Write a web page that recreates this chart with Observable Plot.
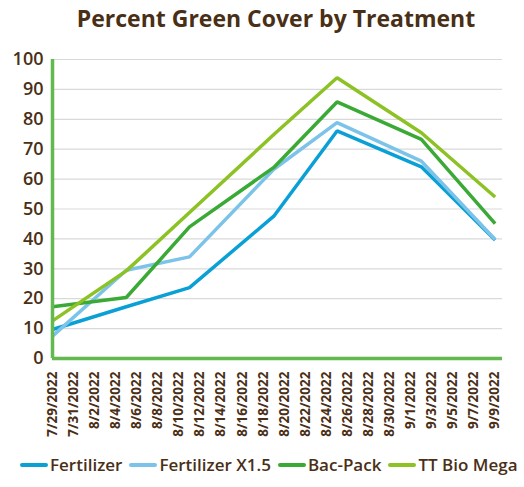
<!DOCTYPE html>
<html>
<head>
<meta charset="utf-8">
<script src="https://cdn.jsdelivr.net/npm/d3@7"></script>
<script src="https://cdn.jsdelivr.net/npm/@observablehq/plot@0.6"></script>
<style>
  html, body { margin: 0; padding: 0; background: #fff; }
  body { width: 524px; height: 487px; overflow: hidden; font-family: "Open Sans", sans-serif; color: #4a2f17; }
  #title { height: 40px; line-height: 36px; text-align: center; font-size: 23px; font-weight: 700; padding-left: 28px; box-sizing: border-box; }
  #legend { display: flex; align-items: center; padding-left: 20px; margin-top: 3px; font-size: 17px; font-weight: 600; white-space: nowrap; }
  .item { display: flex; align-items: center; margin-right: 7px; }
  .sw { width: 28px; height: 4px; border-radius: 2px; margin-right: 2px; }
</style>
</head>
<body>
<div id="title">Percent Green Cover by Treatment</div>
<div id="chart"></div>
<div id="legend"></div>
<script>
const dates = ["2022-07-29", "2022-08-05", "2022-08-11", "2022-08-19", "2022-08-25", "2022-09-02", "2022-09-09"];
const seriesNames = ["Fertilizer", "Fertilizer X1.5", "Bac-Pack", "TT Bio Mega"];
const fertilizer   = [9.7, 17.3, 23.7, 47.6, 76.1, 64.1, 39.6];
const fertilizerX15 = [7.5, 29.5, 34.0, 63.3, 78.9, 66.0, 39.8];
const bacPack      = [17.3, 20.4, 44.0, 63.9, 85.8, 73.3, 45.1];
const ttBioMega    = [12.6, 29.3, 48.8, 74.9, 93.9, 75.5, 54.0];
const yTicks = [0, 10, 20, 30, 40, 50, 60, 70, 80, 90, 100];
const colors = ["#0aa0d6", "#7cc3ea", "#3aa935", "#8cc224"];

const allSeries = [fertilizer, fertilizerX15, bacPack, ttBioMega];
const rows = [];
allSeries.forEach((vals, i) => vals.forEach((v, j) => rows.push({series: seriesNames[i], date: new Date(dates[j] + "T00:00:00Z"), value: v})));

const start = new Date("2022-07-29T00:00:00Z");
const end = new Date("2022-09-09T00:00:00Z");
const xMax = new Date(end.getTime() + 0.7 * 86400000);
const xTicks = d3.utcDay.range(start, new Date(end.getTime() + 1)).filter((d, i) => i % 2 === 0);

const chart = Plot.plot({
  width: 524,
  height: 410,
  marginLeft: 52,
  marginRight: 22,
  marginTop: 19,
  marginBottom: 92,
  style: { fontFamily: "Open Sans, sans-serif", color: "#4a2f17", background: "#fff" },
  x: { type: "utc", domain: [start, xMax] },
  y: { domain: [0, 100] },
  color: { domain: seriesNames, range: colors },
  marks: [
    Plot.gridY(yTicks.filter(d => d > 0), { stroke: "#d9d9d9", strokeOpacity: 1, strokeWidth: 1.2 }),
    Plot.axisY({ ticks: yTicks, tickSize: 0, tickPadding: 9, fontSize: 18, fontWeight: 600, label: null, fill: "#4a2f17" }),
    Plot.axisX({ ticks: xTicks, tickFormat: d3.utcFormat("%-m/%-d/%Y"), tickRotate: -90, tickSize: 0, tickPadding: 13, fontSize: 13.5, fontWeight: 700, label: null, fill: "#4a2f17" }),
    Plot.line(rows, { x: "date", y: "value", z: "series", stroke: "series", strokeWidth: 3.5, strokeLinejoin: "miter", strokeLinecap: "butt" }),
    Plot.ruleY([0], { stroke: "#62b94f", strokeWidth: 3.5 }),
    Plot.ruleX([start], { stroke: "#62b94f", strokeWidth: 3.5 })
  ]
});
document.getElementById("chart").appendChild(chart);

const legend = document.getElementById("legend");
seriesNames.forEach((n, i) => {
  const it = document.createElement("div");
  it.className = "item";
  const sw = document.createElement("span");
  sw.className = "sw";
  sw.style.background = colors[i];
  const t = document.createElement("span");
  t.textContent = n;
  it.appendChild(sw); it.appendChild(t);
  legend.appendChild(it);
});
</script>
</body>
</html>
